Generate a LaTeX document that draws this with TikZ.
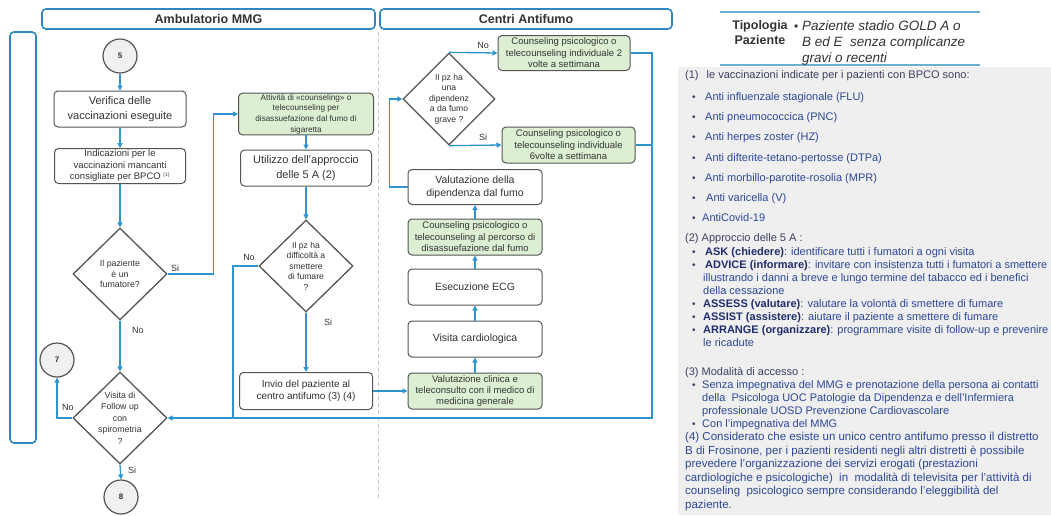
\documentclass[tikz,border=0pt]{standalone}
\usepackage{fontspec}
\setmainfont{Liberation Sans}
\usetikzlibrary{shapes.geometric,arrows.meta}

\definecolor{flow}{HTML}{2E95CF}
\definecolor{frame}{HTML}{2F86C0}
\definecolor{edge}{HTML}{555555}
\definecolor{txt}{HTML}{333333}
\definecolor{soft}{HTML}{DCEFD3}
\definecolor{note}{HTML}{2C4895}
\definecolor{notedark}{HTML}{1F2D6B}
\definecolor{notehead}{HTML}{3B4060}
\definecolor{panel}{HTML}{EFEFEF}
\definecolor{rulecol}{HTML}{6AAFD0}

\newcommand{\fsz}[2]{\fontsize{#1}{#2}\selectfont}

\tikzset{
  box/.style={draw=edge, line width=1pt, rounded corners=4pt, fill=white,
    align=center, text=txt, inner sep=1pt},
  gbox/.style={box, fill=soft},
  dia/.style={diamond, draw=edge, line width=1.3pt, fill=white,
    minimum width=94pt, minimum height=92pt, inner sep=0pt},
  dtext/.style={align=center, text=txt, inner sep=0pt, font=\fsz{8.8}{10.8}},
  circ/.style={circle, draw=edge, line width=1.2pt, fill=gray!12,
    minimum size=34pt, inner sep=0pt, text=txt, font=\fsz{8}{9}\bfseries},
  conn/.style={draw=flow, line width=1.3pt, -{Triangle[length=5pt,width=5pt]}},
  link/.style={draw=flow, line width=1.3pt},
  lab/.style={text=txt, inner sep=0pt, font=\fsz{9}{10}},
  lane/.style={draw=frame, line width=1.6pt, rounded corners=4pt, fill=white},
  head/.style={text=txt, font=\fsz{12.5}{14}\bfseries},
  nt/.style={anchor=base west, inner sep=0pt, text=note, font=\fsz{11}{13}},
  nh/.style={nt, text=notehead},
  nb/.style={nt, text=notehead, font=\fsz{10}{12}},
  np/.style={nt, font=\fsz{11.5}{13}},
  tip/.style={anchor=base, inner sep=0pt, text=txt, font=\fsz{12.5}{15}\bfseries},
  tipi/.style={anchor=base west, inner sep=0pt, text=txt, font=\fsz{13.5}{16}\itshape},
}

\begin{document}
\begin{tikzpicture}[x=1pt,y=-1pt]
\useasboundingbox (0,0) rectangle (1051,515);
\fill[white] (0,0) rectangle (1051,515);

% ---- lanes and headers ----
\node[lane, minimum width=333pt, minimum height=20pt, head] (hmmg) at (208.5,19) {Ambulatorio MMG};
\node[lane, minimum width=292pt, minimum height=20pt, head] (hcaf) at (526,19) {Centri Antifumo};
\node[lane, minimum width=26pt, minimum height=411pt] (side) at (23,237.5) {};
\draw[gray!45, line width=1pt, dash pattern=on 4pt off 3pt] (378,32) -- (378,500);

% ---- Ambulatorio MMG ----
\node[circ] (c5) at (120,56) {5};
\node[box, minimum width=132pt, minimum height=36pt, font=\fsz{11}{14.5}] (ver) at (120,109)
  {Verifica delle\\vaccinazioni eseguite};
\node[box, minimum width=131pt, minimum height=35pt, font=\fsz{9.5}{11.5}] (ind) at (120,166)
  {Indicazioni per le\\vaccinazioni mancanti\\consigliate per BPCO \textsuperscript{\fsz{5}{5}(1)}};
\node[dia, label={[dtext]center:{Il paziente\\è un\\fumatore?}}] (fum) at (120,274) {};
\node[dia, label={[dtext, font=\fsz{8.8}{11.5}]center:{Visita di\\Follow up\\con\\spirometria\\?}}] (fu) at (120,418) {};
\node[circ] (c7) at (57,360) {7};
\node[circ] (c8) at (121,497) {8};

\node[gbox, minimum width=135pt, minimum height=35pt, font=\fsz{8.2}{10.6}] (g1) at (306,114)
  {Attività di «counseling» o\\telecounseling per\\disassuefazione dal fumo di\\sigaretta};
\node[box, minimum width=131pt, minimum height=36pt, font=\fsz{11}{14.5}] (uti) at (306,168)
  {Utilizzo dell'approccio\\delle 5 A (2)};
\node[dia, label={[dtext, font=\fsz{8.6}{10.5}]center:{Il pz ha\\difficoltà a\\smettere\\di fumare\\?}}] (dif) at (306,266) {};
\node[box, minimum width=133pt, minimum height=37pt, font=\fsz{10}{12}] (inv) at (306,391)
  {Invio del paziente al\\centro antifumo (3) (4)};

% ---- Centri Antifumo ----
\node[gbox, minimum width=134pt, minimum height=36pt, font=\fsz{9.5}{11}] (vc) at (475,391)
  {Valutazione clinica e\\teleconsulto con il medico di\\medicina generale};
\node[box, minimum width=134pt, minimum height=36pt, font=\fsz{10.5}{12}] (vis) at (475,339)
  {Visita cardiologica};
\node[box, minimum width=134pt, minimum height=36pt, font=\fsz{10.5}{12}] (ecg) at (475,287)
  {Esecuzione ECG};
\node[gbox, minimum width=134pt, minimum height=36pt, font=\fsz{9.5}{11.5}] (cp) at (475,237)
  {Counseling psicologico o\\telecounseling al percorso di\\disassuefazione dal fumo};
\node[box, minimum width=134pt, minimum height=35pt, font=\fsz{10.5}{13}] (vd) at (475,187)
  {Valutazione della\\dipendenza dal fumo};
\node[dia, minimum width=92pt, label={[dtext, font=\fsz{8.6}{10.5}]center:{Il pz ha\\una\\dipendenz\\a da fumo\\grave ?}}] (dd) at (449,99) {};
\node[gbox, minimum width=132pt, minimum height=35pt, font=\fsz{9.5}{11.5}] (b2) at (564,53)
  {Counseling psicologico o\\telecounseling individuale 2\\volte a settimana};
\node[gbox, minimum width=133pt, minimum height=36pt, font=\fsz{9.5}{11.5}] (b6) at (568.5,145)
  {Counseling psicologico o\\telecounseling individuale\\6volte a settimana};

% ---- connectors ----
\coordinate (jn) at (233,418);
\coordinate (rc) at (652,418);
\draw[conn] (c5) -- (ver);
\draw[conn] (ver) -- (ind);
\draw[conn] (ind) -- (fum.north);
\draw[conn] (fum.east) -- ++(46,0) |- (g1.west);
\draw[conn] (fum.south) -- (fu.north);
\draw[conn] (fu.west) -| (c7.south);
\draw[conn] (fu.south) -- (c8.north);
\draw[conn] (g1) -- (uti);
\draw[conn] (uti) -- (dif.north);
\draw[conn] (dif.south) -- (inv.north);
\draw[link] (dif.west) -| (jn);
\draw[conn] (inv.east) -- (vc.west);
\draw[conn] (vc) -- (vis);
\draw[conn] (vis) -- (ecg);
\draw[conn] (ecg) -- (cp);
\draw[conn] (cp) -- (vd);
\draw[conn] (vd.west) -- ++(-18,0) |- (dd.west);
\draw[conn] (dd.north) -- (b2.west);
\draw[conn] (dd.south) -- (b6.west);
\draw[link] (b6.east) -- (b6.east -| rc);
\draw[conn] (b2.east) -| (rc) -- (fu.east);

% ---- branch labels ----
\node[lab] (lfs) at (175,268) {Si};
\node[lab] (lfn) at (138,330) {No};
\node[lab] (lun) at (68,407) {No};
\node[lab] (lus) at (132,470) {Si};
\node[lab] (ldn) at (249,257) {No};
\node[lab] (lds) at (328,322) {Si};
\node[lab] (lgn) at (483,45) {No};
\node[lab] (lgs) at (483,137) {Si};

% ---- patient type ----
\draw[rulecol, line width=1.2pt] (720,12) -- (980,12);
\draw[rulecol, line width=1.2pt] (720,65) -- (980,65);
\node[tip] (tp1) at (760,29.5) {Tipologia};
\node[tip] (tp2) at (760,44.5) {Paziente};
\node[tipi, font=\fsz{12}{14}] (tpb) at (794,30) {•};
\node[tipi] (tq1) at (802,30) {Paziente stadio GOLD A o};
\node[tipi] (tq2) at (802,46) {B ed E\ \ senza complicanze};
\node[tipi] (tq3) at (802,62) {gravi o recenti};

% ---- notes panel ----
\fill[panel] (678,67) rectangle (1051,515);
\node[nh] (n1) at (685,78.5) {(1)\hspace{5pt} le vaccinazioni indicate per i pazienti con BPCO sono:};
\node[nb] (n1a) at (692,100.5) {•}; \node[nt] (t1a) at (705,100.5) {Anti influenzale stagionale (FLU)};
\node[nb] (n1b) at (692,120.5) {•}; \node[nt] (t1b) at (705,120.5) {Anti pneumococcica (PNC)};
\node[nb] (n1c) at (692,140.5) {•}; \node[nt] (t1c) at (705,140.5) {Anti herpes zoster (HZ)};
\node[nb] (n1d) at (692,161.5) {•}; \node[nt] (t1d) at (705,161.5) {Anti difterite-tetano-pertosse (DTPa)};
\node[nb] (n1e) at (692,181.5) {•}; \node[nt] (t1e) at (705,181.5) {Anti morbillo-parotite-rosolia (MPR)};
\node[nb] (n1f) at (692,201.5) {•}; \node[nt] (t1f) at (706,201.5) {Anti varicella (V)};
\node[nb] (n1g) at (692,221.5) {•}; \node[nt] (t1g) at (702,221.5) {AntiCovid-19};

\node[nh] (n2) at (685,241.5) {(2) Approccio delle 5 A :};
\node[nb] (n2a) at (692,255.5) {•}; \node[nt] (t2a) at (705,255.5) {\textbf{\color{notedark}ASK (chiedere)}: identificare tutti i fumatori a ogni visita};
\node[nb] (n2b) at (692,268.5) {•}; \node[nt] (t2b) at (705,268.5) {\textbf{\color{notedark}ADVICE (informare)}: invitare con insistenza tutti i fumatori a smettere};
\node[nt] (t2c) at (703,281.5) {illustrando i danni a breve e lungo termine del tabacco ed i benefici};
\node[nt] (t2d) at (703,294.5) {della cessazione};
\node[nb] (n2e) at (692,307.5) {•}; \node[nt] (t2e) at (703,307.5) {\textbf{\color{notedark}ASSESS (valutare)}: valutare la volontà di smettere di fumare};
\node[nb] (n2f) at (692,320.5) {•}; \node[nt] (t2f) at (703,320.5) {\textbf{\color{notedark}ASSIST (assistere)}: aiutare il paziente a smettere di fumare};
\node[nb] (n2g) at (692,333.5) {•}; \node[nt] (t2g) at (703,333.5) {\textbf{\color{notedark}ARRANGE (organizzare)}: programmare visite di follow-up e prevenire};
\node[nt] (t2h) at (703,346.5) {le ricadute};

\node[nh] (n3) at (685,375.5) {(3) Modalità di accesso :};
\node[nb] (n3a) at (692,388.5) {•}; \node[nt] (t3a) at (702,388.5) {Senza impegnativa del MMG e prenotazione della persona ai contatti};
\node[nt] (t3b) at (702,401.5) {della\ \ Psicologa UOC Patologie da Dipendenza e dell'Infermiera};
\node[nt] (t3c) at (702,414.5) {professionale UOSD Prevenzione Cardiovascolare};
\node[nb] (n3d) at (692,427.5) {•}; \node[nt] (t3d) at (702,427.5) {Con l'impegnativa del MMG};

\node[np] (t4a) at (685,440.5) {(4) Considerato che esiste un unico centro antifumo presso il distretto};
\node[np] (t4b) at (685,454.5) {B di Frosinone, per i pazienti residenti negli altri distretti è possibile};
\node[np] (t4c) at (685,467.5) {prevedere l'organizzazione dei servizi erogati (prestazioni};
\node[np] (t4d) at (685,481.5) {cardiologiche e psicologiche)\ \ in\ \ modalità di televisita per l'attività di};
\node[np] (t4e) at (685,494.5) {counseling\ \ psicologico sempre considerando l'eleggibilità del};
\node[np] (t4f) at (685,508.5) {paziente.};
\end{tikzpicture}
\end{document}
